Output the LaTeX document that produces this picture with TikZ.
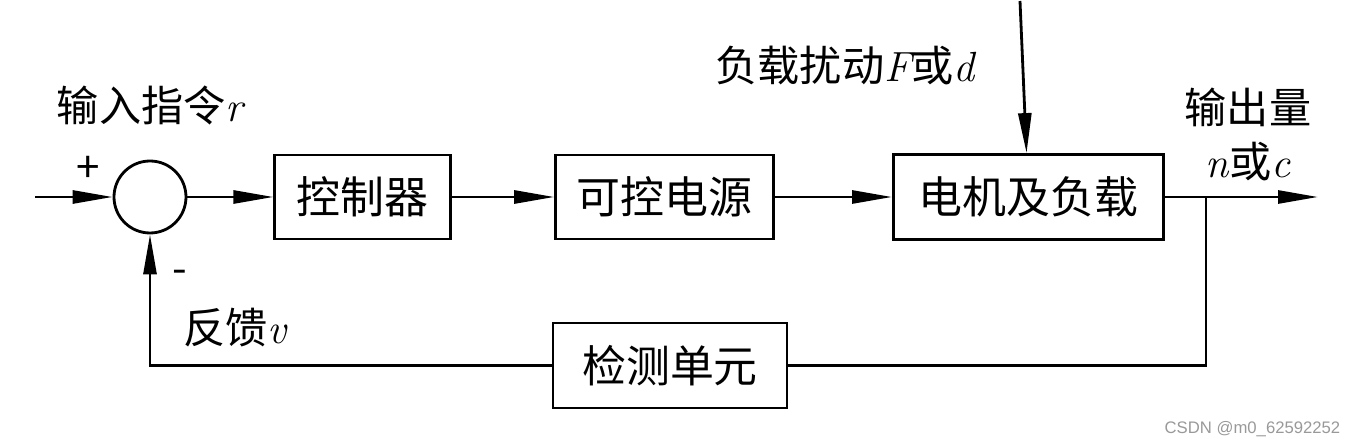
\documentclass[tikz,border=0pt]{standalone}
\usepackage{fontspec}
\newfontfamily\cjk{Noto Sans CJK SC}
\newfontfamily\markfont{Liberation Sans}
\usetikzlibrary{arrows.meta}
\usetikzlibrary{positioning}
\newcommand{\varit}[1]{{\rmfamily\itshape #1}}

\begin{document}
\begin{tikzpicture}[
    node distance=1.7cm,
    line width=1.6pt,
    >={Triangle[length=0.8cm,width=0.26cm]},
    box/.style={
        draw,
        minimum height=1.68cm,
        font=\fontsize{25}{30}\selectfont\cjk,
        inner sep=0pt
    },
    lbl/.style={font=\fontsize{24}{29}\selectfont\cjk, inner sep=0pt}
]
\useasboundingbox (0,0) rectangle (27.12,8.92);
% forward path
\node[circle, draw, minimum size=1.44cm, inner sep=0pt] (sum) at (3.0,4.98) {};
\node[box, minimum width=3.52cm, right=1.72cm of sum] (ctrl) {控制器};
\node[box, minimum width=4.36cm, right=2.04cm of ctrl] (power) {可控电源};
\node[box, minimum width=5.4cm, minimum height=1.7cm, right=2.34cm of power] (motor) {电机及负载};
\node[box, minimum width=4.68cm, minimum height=1.7cm] (detect) at (13.4,1.61) {检测单元};
\coordinate (in) at (0.7,4.98);
\coordinate (out) at (26.36,4.98);
\coordinate (branch) at (24.12,4.98);
\coordinate (dist) at (20.4,8.9);
% labels
\node[lbl] (cmd) at (3.0,6.82) {输入指令\varit{r}};
\node[lbl] (plus) at (1.76,5.54) {+};
\node[lbl] (minus) at (3.6,3.38) {-};
\node[lbl] (fb) at (4.7,2.36) {反馈\varit{v}};
\node[lbl] (load) at (16.9,7.62) {负载扰动\varit{F}或\varit{d}};
\node[lbl] (outname) at (24.96,6.78) {输出量};
\node[lbl] (outvar) at (24.96,5.68) {\varit{n}或\varit{c}};
\node[font=\fontsize{9.5}{12}\selectfont\markfont, text=black!40, inner sep=0pt] (mark) at (25.05,0.34) {CSDN @m0\_62592252};
% connectors
\draw[->] (in) -- (sum);
\draw[->] (sum) -- (ctrl);
\draw[->] (ctrl) -- (power);
\draw[->] (power) -- (motor);
\draw[->] (dist) -- (motor);
\draw[->] (motor) -- (out);
\draw (branch) |- (detect);
\draw[->] (detect) -| (sum);
\end{tikzpicture}
\end{document}
